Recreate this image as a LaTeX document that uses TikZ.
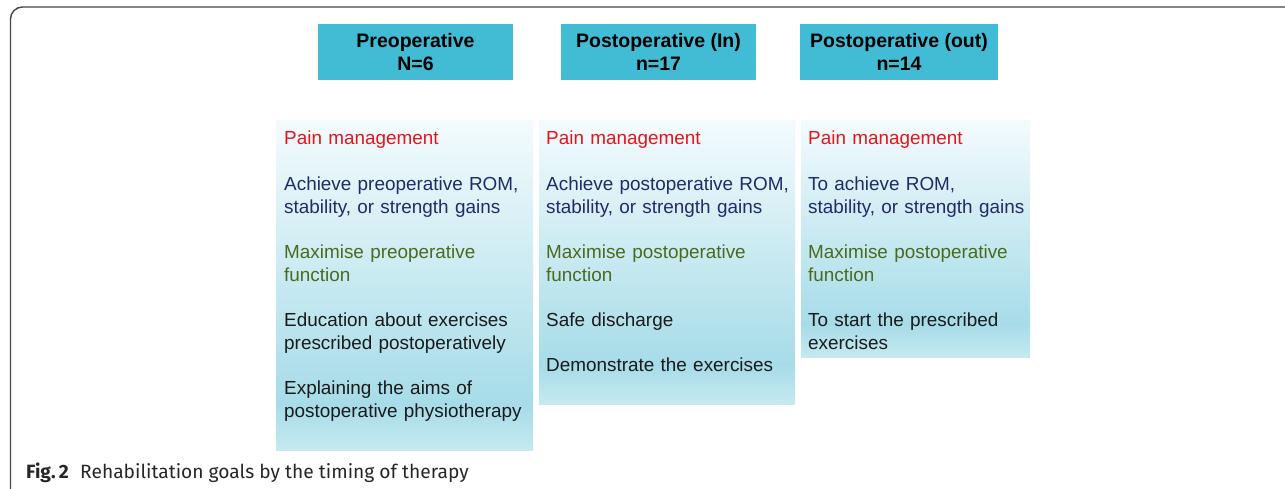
\documentclass[tikz,border=0pt]{standalone}
\usepackage{fontspec}
\setmainfont{Liberation Sans}
\newfontfamily\capfont{Fira Sans}
\usetikzlibrary{positioning}
\definecolor{headblue}{HTML}{41BCD4}
\definecolor{shadetop}{HTML}{F4FBFD}
\definecolor{shademid}{HTML}{A6DCE8}
\definecolor{shadebot}{HTML}{C6E9F1}
\definecolor{painred}{HTML}{E8131B}
\definecolor{romblue}{HTML}{1E2C6A}
\definecolor{funcgreen}{HTML}{4B6A1F}
\definecolor{plaintxt}{HTML}{1A1A1A}
\definecolor{framegray}{HTML}{444444}
\pgfdeclareverticalshading{goalshade}{100bp}{color(0bp)=(shadebot); color(25bp)=(shadebot); color(32bp)=(shademid); color(75bp)=(shadetop); color(100bp)=(shadetop)}
\tikzset{
  headbox/.style={fill=headblue, minimum height=56, inner sep=0, align=center,
    font=\fontsize{19.5}{23}\selectfont\bfseries},
  goalbox/.style={shading=goalshade, anchor=north west, inner sep=0},
  goaltext/.style={anchor=north west, inner sep=0, text width=260, align=left,
    font=\fontsize{18.9}{22.7}\selectfont, text=plaintxt},
}
\begin{document}
\begin{tikzpicture}[x=1pt,y=-1pt]
    \useasboundingbox (0,0) rectangle (1285,488);
    % 外框
    \draw[framegray,line width=1.4,rounded corners=12] (1286,7) -- (10.5,7) -- (10.5,489);
    % 三个标题框
    \foreach \nm/\cx/\bw/\t in {prehead/415.5/195/{Preoperative\\N=6},
                                inhead/658.5/195/{Postoperative (In)\\n=17},
                                outhead/899/198/{Postoperative (out)\\n=14}} {
        \node[headbox, minimum width=\bw] (\nm) at (\cx,52) {\t};
    }
    % 渐变背景
    \node[goalbox, minimum width=257, minimum height=330] (preshade) at (276,120) {};
    \node[goalbox, minimum width=256, minimum height=284] (inshade) at (539,120) {};
    \node[goalbox, minimum width=229, minimum height=237] (outshade) at (801,120) {};
    % 目标文字
    \node[goaltext] (pregoals) at ([xshift=8,yshift=-11]preshade.north west) {%
        {\color{painred}Pain management}\\[22.7pt]
        {\color{romblue}Achieve preoperative ROM,\\stability, or strength gains}\\[22.7pt]
        {\color{funcgreen}Maximise preoperative\\function}\\[22.7pt]
        Education about exercises\\prescribed postoperatively\\[22.7pt]
        Explaining the aims of\\postoperative physiotherapy};
    \node[goaltext] (ingoals) at ([xshift=7,yshift=-11]inshade.north west) {%
        {\color{painred}Pain management}\\[22.7pt]
        {\color{romblue}Achieve postoperative ROM,\\stability, or strength gains}\\[22.7pt]
        {\color{funcgreen}Maximise postoperative\\function}\\[22.7pt]
        Safe discharge\\[22.7pt]
        Demonstrate the exercises};
    \node[goaltext] (outgoals) at ([xshift=7,yshift=-11]outshade.north west) {%
        {\color{painred}Pain management}\\[22.7pt]
        {\color{romblue}To achieve ROM,\\stability, or strength gains}\\[22.7pt]
        {\color{funcgreen}Maximise postoperative\\function}\\[22.7pt]
        To start the prescribed\\exercises};
    % 图注
    \node[anchor=base west, inner sep=0, text=black!85,
          font=\capfont\fontsize{19.2}{21}\selectfont] (caption) at (26,478)
        {\textbf{Fig.\,2}\hspace{0.6em}Rehabilitation goals by the timing of therapy};
\end{tikzpicture}
\end{document}
